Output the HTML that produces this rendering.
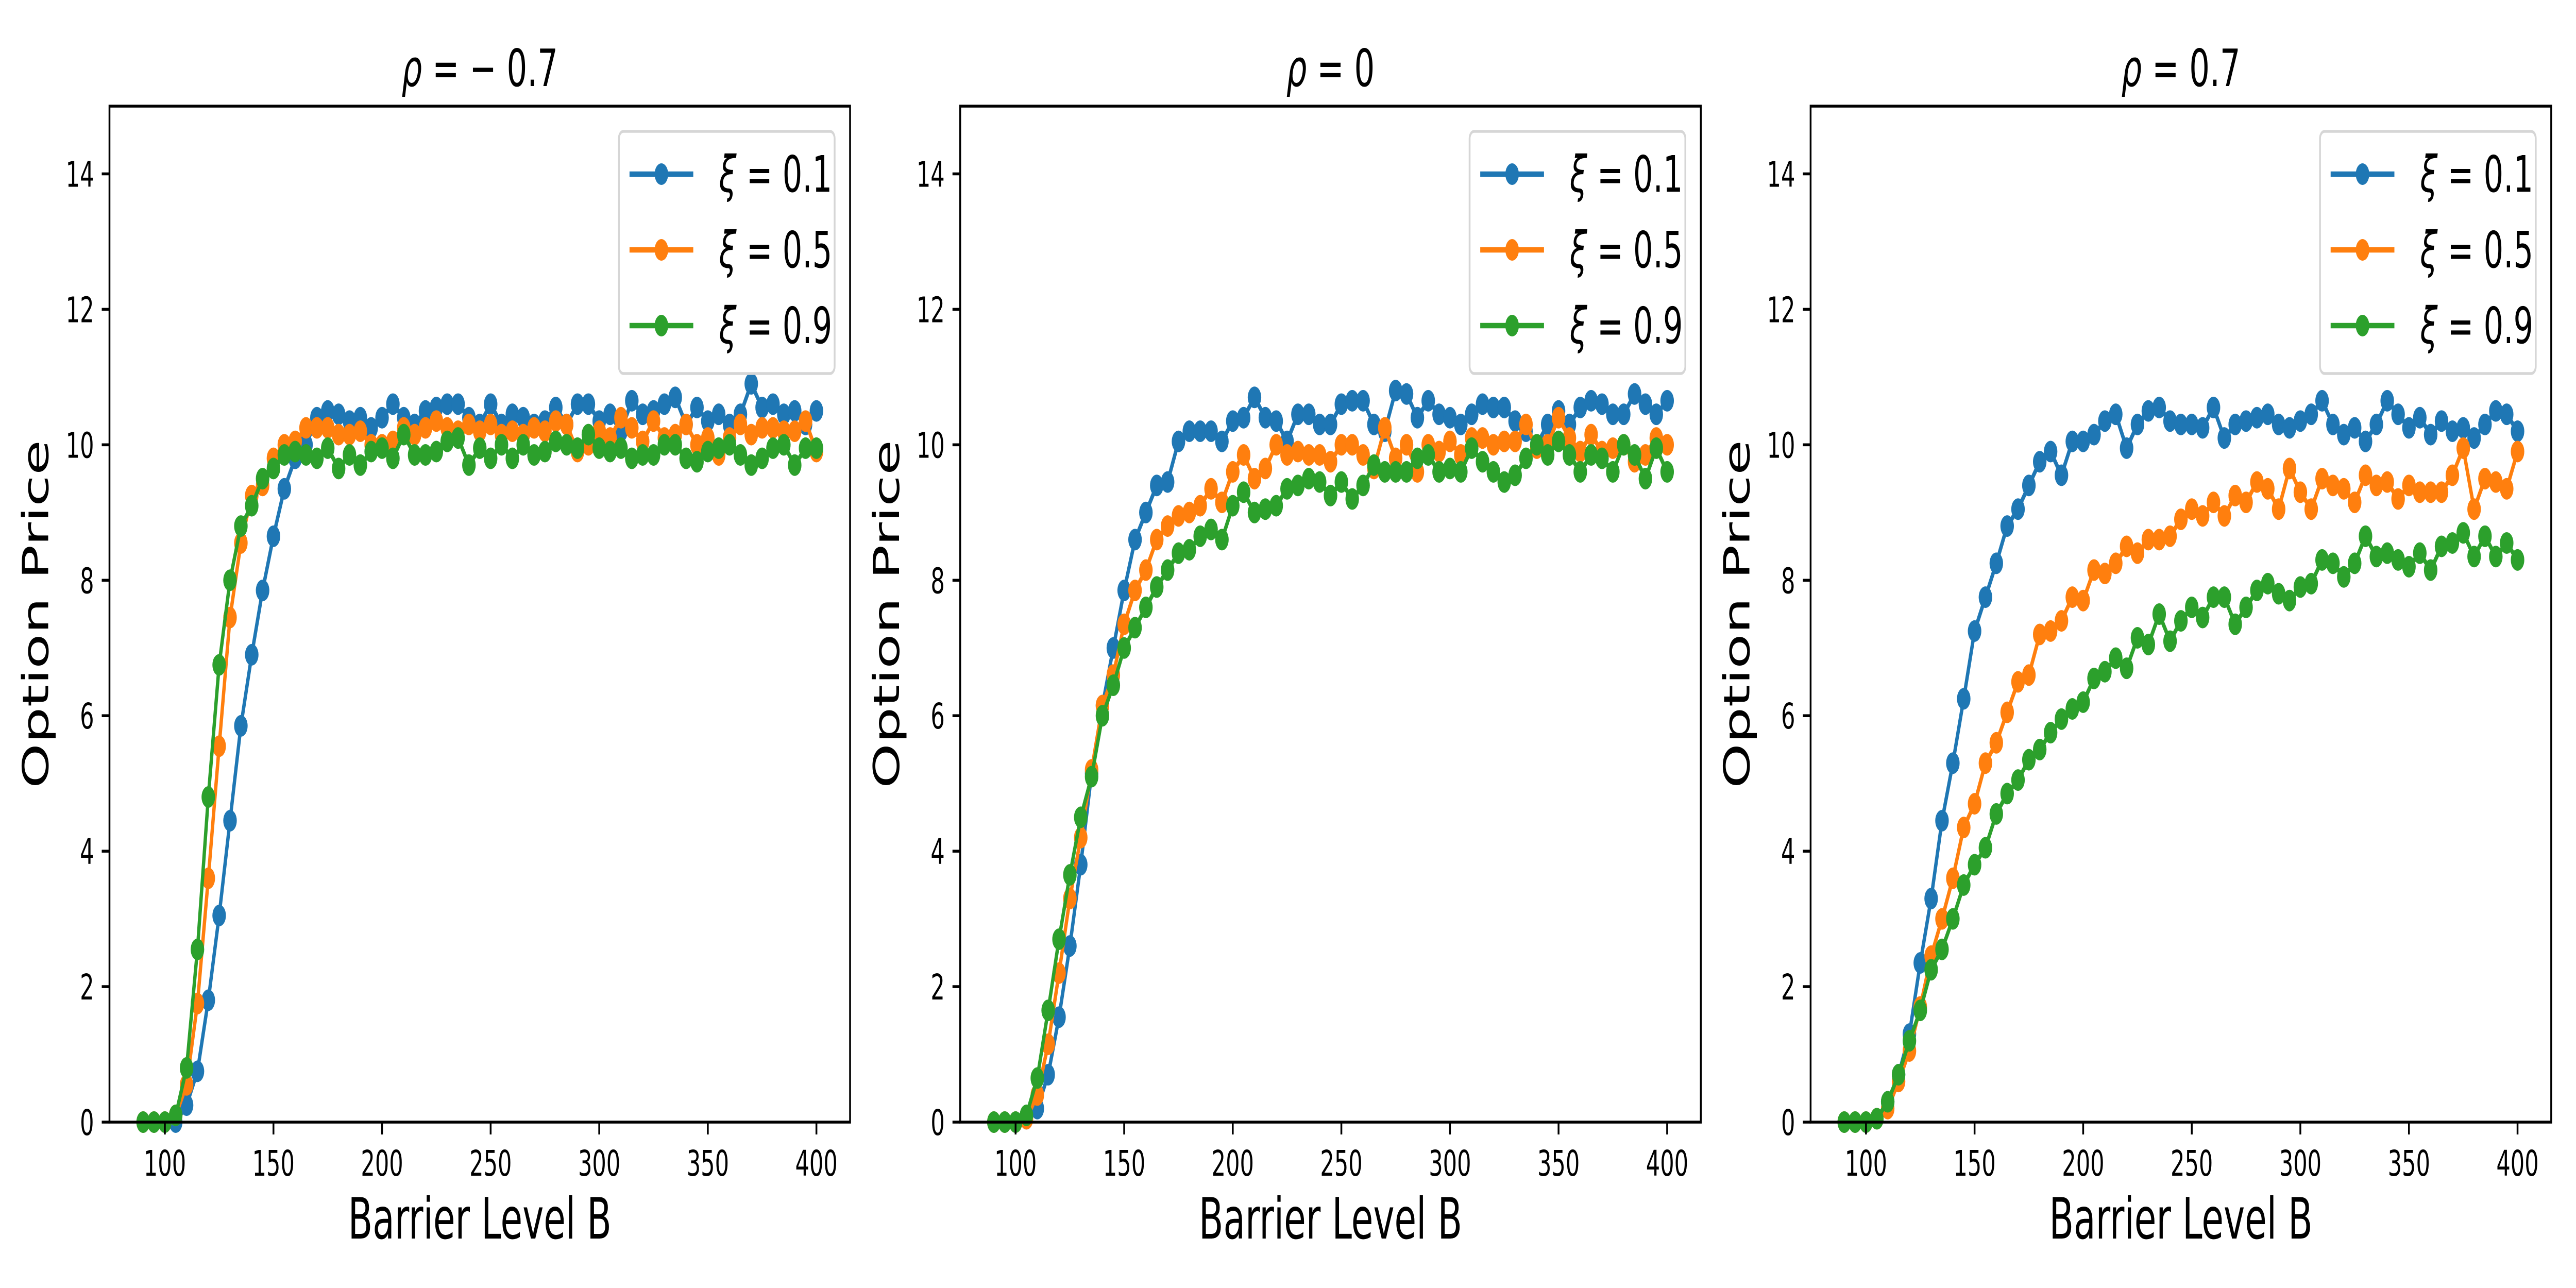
<!DOCTYPE html>
<html><head><meta charset="utf-8"><style>
html,body{margin:0;padding:0;background:#fff;overflow:hidden;width:100%;height:100%}
svg{display:block;width:100vw;height:100vh}
text{font-family:"DejaVu Sans","Liberation Sans",sans-serif;fill:#000}
</style></head><body>
<svg id="fig" viewBox="0 0 8000 2500" preserveAspectRatio="none" xmlns="http://www.w3.org/2000/svg"></svg>
<script>
const xStart = 90, xStep = 5;
const panelTitles = ["\u2212 0.7", "0", "0.7"];
const seriesLabels = ["0.1", "0.5", "0.9"];
const xTicks = [100,150,200,250,300,350,400];
const yTicks = [0,2,4,6,8,10,12,14];
const z = [0,0,0];
const p1Blue = z.concat([0,0.25,0.75,1.8,3.05,4.45,5.85,6.9,7.85,8.65,9.35,9.8,10.0,10.4,10.5,10.45,10.35,10.4,10.25,10.4,10.6,10.4,10.3,10.5,10.55,10.6,10.6,10.4,10.3,10.6,10.3,10.45,10.4,10.3,10.35,10.55,10.3,10.6,10.6,10.35,10.45,10.2,10.65,10.45,10.5,10.6,10.7,10.3,10.55,10.35,10.45,10.3,10.45,10.9,10.55,10.6,10.45,10.5,10.3,10.5]);
const p1Orange = z.concat([0.1,0.55,1.75,3.6,5.55,7.45,8.55,9.25,9.4,9.8,10.0,10.05,10.25,10.25,10.25,10.15,10.15,10.2,10.0,10.0,10.05,10.25,10.15,10.25,10.35,10.25,10.2,10.3,10.2,10.3,10.15,10.2,10.15,10.25,10.2,10.35,10.3,9.9,10.0,10.2,10.1,10.4,10.25,10.05,10.35,10.1,10.15,10.3,10.0,10.1,9.85,10.1,10.3,10.15,10.25,10.25,10.2,10.2,10.35,9.9]);
const p1Green = z.concat([0.1,0.8,2.55,4.8,6.75,8.0,8.8,9.1,9.5,9.65,9.85,9.9,9.85,9.8,9.95,9.65,9.85,9.7,9.9,9.95,9.8,10.15,9.85,9.85,9.9,10.05,10.1,9.7,9.95,9.8,10.0,9.8,10.0,9.85,9.9,10.05,10.0,9.95,10.15,9.95,9.9,9.95,9.8,9.85,9.85,10.0,10.0,9.8,9.75,9.9,9.95,10.0,9.85,9.7,9.8,9.95,10.0,9.7,9.95,9.95]);
const p2Blue = z.concat([0.05,0.2,0.7,1.55,2.6,3.8,5.15,6.15,7.0,7.85,8.6,9.0,9.4,9.45,10.05,10.2,10.2,10.2,10.05,10.35,10.4,10.7,10.4,10.35,10.05,10.45,10.45,10.3,10.3,10.6,10.65,10.65,10.3,10.2,10.8,10.75,10.4,10.65,10.45,10.4,10.3,10.45,10.6,10.55,10.55,10.35,10.2,10.0,10.3,10.5,10.3,10.55,10.65,10.6,10.45,10.45,10.75,10.6,10.45,10.65]);
const p2Orange = z.concat([0.05,0.4,1.15,2.2,3.3,4.2,5.2,6.15,6.6,7.35,7.85,8.15,8.6,8.8,8.95,9.0,9.1,9.35,9.15,9.6,9.85,9.5,9.65,10.0,9.85,9.9,9.85,9.85,9.75,10.0,10.0,9.85,9.65,10.25,9.8,10.0,9.6,10.0,9.9,10.05,9.85,10.1,10.1,10.0,10.05,10.05,10.3,9.95,10.0,10.4,10.1,9.9,10.15,9.9,9.95,10.0,9.75,9.85,10.1,10.0]);
const p2Green = z.concat([0.1,0.65,1.65,2.7,3.65,4.5,5.1,6.0,6.45,7.0,7.3,7.6,7.9,8.15,8.4,8.45,8.65,8.75,8.6,9.1,9.3,9.0,9.05,9.1,9.35,9.4,9.5,9.45,9.25,9.45,9.2,9.4,9.7,9.6,9.6,9.6,9.8,9.85,9.6,9.65,9.6,9.95,9.75,9.6,9.45,9.55,9.8,10.0,9.85,10.05,9.85,9.6,9.85,9.8,9.6,10.0,9.85,9.5,9.95,9.6]);
const p3Blue = z.concat([0.05,0.3,0.7,1.3,2.35,3.3,4.45,5.3,6.25,7.25,7.75,8.25,8.8,9.05,9.4,9.75,9.9,9.55,10.05,10.05,10.15,10.35,10.45,9.95,10.3,10.5,10.55,10.35,10.3,10.3,10.25,10.55,10.1,10.3,10.35,10.4,10.45,10.3,10.25,10.35,10.45,10.65,10.3,10.15,10.25,10.05,10.3,10.65,10.45,10.25,10.4,10.15,10.35,10.2,10.25,10.1,10.3,10.5,10.45,10.2]);
const p3Orange = z.concat([0.05,0.2,0.6,1.05,1.7,2.45,3.0,3.6,4.35,4.7,5.3,5.6,6.05,6.5,6.6,7.2,7.25,7.4,7.75,7.7,8.15,8.1,8.25,8.5,8.4,8.6,8.6,8.65,8.9,9.05,8.95,9.15,8.95,9.25,9.15,9.45,9.35,9.05,9.65,9.3,9.05,9.5,9.4,9.35,9.15,9.55,9.4,9.45,9.2,9.4,9.3,9.3,9.3,9.55,9.95,9.05,9.5,9.45,9.35,9.9]);
const p3Green = z.concat([0.05,0.3,0.7,1.2,1.65,2.25,2.55,3.0,3.5,3.8,4.05,4.55,4.85,5.05,5.35,5.5,5.75,5.95,6.1,6.2,6.55,6.65,6.85,6.7,7.15,7.05,7.5,7.1,7.4,7.6,7.45,7.75,7.75,7.35,7.6,7.85,7.95,7.8,7.7,7.9,7.95,8.3,8.25,8.05,8.25,8.65,8.35,8.4,8.3,8.2,8.4,8.15,8.5,8.55,8.7,8.35,8.65,8.35,8.55,8.3]);
const panelData = [[p1Blue,p1Orange,p1Green],[p2Blue,p2Orange,p2Green],[p3Blue,p3Orange,p3Green]];
const colors = ["#1f77b4","#ff7f0e","#2ca02c"];

const NS = "http://www.w3.org/2000/svg";
const svg = document.getElementById("fig");
function mk(tag, attrs, parent){ const e=document.createElementNS(NS,tag); for(const k in attrs) e.setAttribute(k,attrs[k]); (parent||svg).appendChild(e); return e; }

const lefts = [340, 2982, 5623];
const W = 2300, axTop = 206, axBottom = 2178, H = axBottom-axTop;
const xMin = 74.5, xMax = 415.5, yMin = 0, yMax = 15;

lefts.forEach((L, pi) => {
  const g = mk("g", {});
  
  
  const xs = v => L + (v - xMin) / (xMax - xMin) * W;
  const ys = v => axBottom - (v - yMin) / (yMax - yMin) * H;

  panelData[pi].forEach((vals, si) => {
    const sg = mk("g", {}, g);
    
    
    const pts = vals.map((v,i)=> xs(xStart + i*xStep).toFixed(1)+","+ys(v).toFixed(1)).join(" ");
    const pl = mk("polyline", {points: pts, fill:"none", stroke: colors[si], "stroke-width":10.4, "stroke-linejoin":"round"}, sg);
    
    
    vals.forEach((v,i)=>{
      const c = mk("circle", {cx: xs(xStart+i*xStep), cy: ys(v), r: 21, fill: colors[si]}, sg);
      
      
    });
  });

  const fr = mk("rect", {x:L, y:axTop, width:W, height:H, fill:"none", stroke:"#000", "stroke-width":5.6}, g);
  
  

  xTicks.forEach(t=>{
    const x = xs(t);
    const tl = mk("line", {x1:x, x2:x, y1:axBottom, y2:axBottom+24, stroke:"#000","stroke-width":5.6}, g);
    
    
    const tx = mk("text", {x:x, y:axBottom+104, "font-size":69, "text-anchor":"middle"}, g);
    tx.textContent = t;
    
    
  });
  yTicks.forEach(t=>{
    const y = ys(t);
    const tl = mk("line", {x1:L-24, x2:L, y1:y, y2:y, stroke:"#000","stroke-width":5.6}, g);
    
    
    const tx = mk("text", {x:L-48, y:y+25, "font-size":69, "text-anchor":"end"}, g);
    tx.textContent = t;
    
    
  });

  const xl = mk("text", {x:L+W/2, y:2404, "font-size":111, "text-anchor":"middle"}, g);
  xl.textContent = "Barrier Level B";
  
  
  const yx = L-190, yy = axTop+H/2;
  const yl = mk("text", {x:yx, y:yy, "font-size":111, "text-anchor":"middle", transform:`rotate(-90 ${yx} ${yy})`}, g);
  yl.textContent = "Option Price";
  
  

  const ti = mk("text", {x:L+W/2, y:167, "font-size":100, "text-anchor":"middle"}, g);
  ti.innerHTML = '<tspan font-style="italic">ρ</tspan> = ' + panelTitles[pi];
  
  

  const lg = mk("g", {}, g);
  
  
  const lb = mk("rect", {x:L+1582, y:axTop+49, width:670, height:470, rx:14, fill:"#fff", "fill-opacity":0.8, stroke:"#d6d6d6", "stroke-width":5.6}, lg);
  
  
  seriesLabels.forEach((s,si)=>{
    const ry = axTop + 132 + si*147;
    const eg = mk("g", {}, lg);
    
    
    mk("line", {x1:L+1615, x2:L+1813, y1:ry, y2:ry, stroke:colors[si], "stroke-width":10.4}, eg);
    mk("circle", {cx:L+1714, cy:ry, r:21, fill:colors[si]}, eg);
    const t = mk("text", {x:L+1893, y:ry+34, "font-size":97}, eg);
    t.innerHTML = '<tspan font-style="italic">ξ</tspan> = ' + s;
  });
});
</script>
</body></html>
